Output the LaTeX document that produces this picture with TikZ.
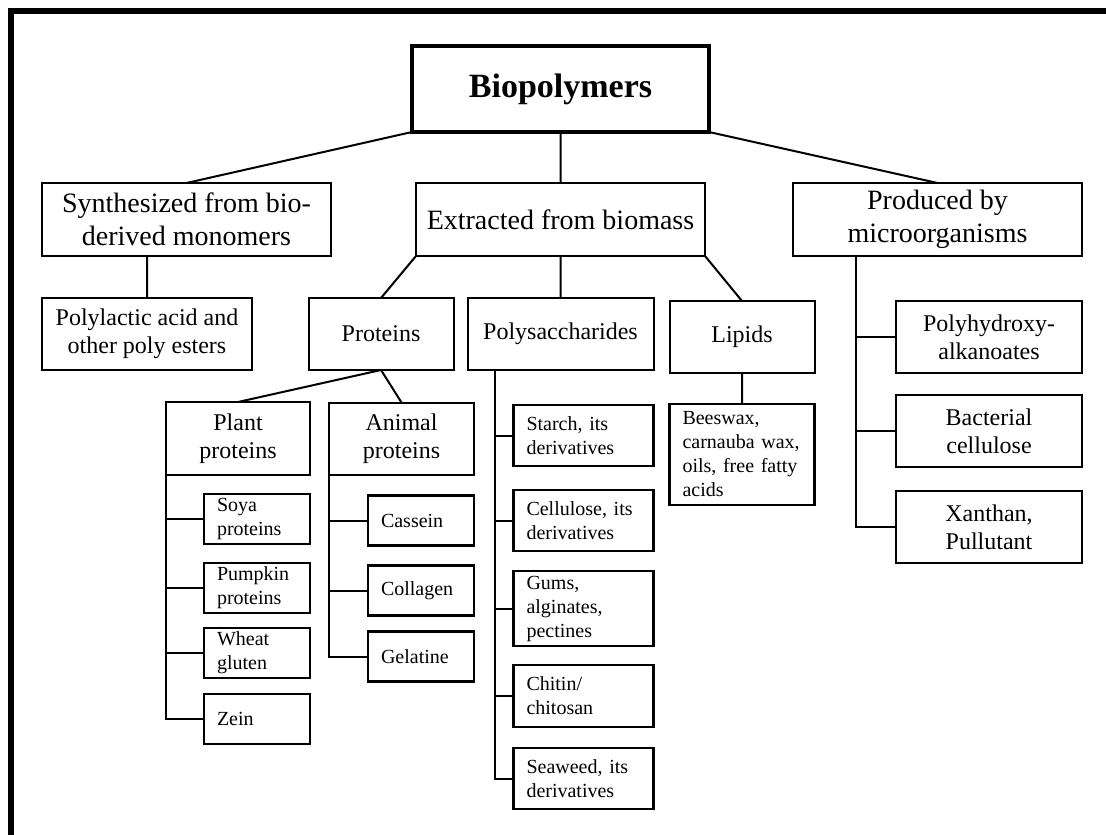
\documentclass[tikz,border=0pt]{standalone}
\usepackage{fontspec}
\setmainfont{Liberation Serif}
\usetikzlibrary{positioning}

\begin{document}
\begin{tikzpicture}[x=0.5pt,y=-0.5pt,line width=1pt,
    rootbox/.style={draw,line width=1.6pt,outer sep=0pt,minimum width=148.5pt,minimum height=43pt,font=\fontsize{17}{20}\selectfont\bfseries},
    bigbox/.style={draw,align=center,inner sep=0pt,outer sep=0pt,minimum width=144.5pt,minimum height=36.5pt,font=\fontsize{14}{16.5}\selectfont},
    midbox/.style={draw,align=center,inner sep=0pt,outer sep=0pt,minimum width=#1,minimum height=36pt,font=\fontsize{12}{14}\selectfont},
    leafbox/.style={draw,line width=1.1pt,align=left,inner xsep=6.5pt,inner ysep=0pt,outer sep=0pt,text width=#1,font=\fontsize{10}{12}\selectfont},
    plantleaf/.style={leafbox=40pt,minimum height=25pt},
    polyleaf/.style={leafbox=57pt,minimum height=30.5pt}]
    \useasboundingbox (0,0) rectangle (1106,834);
    \draw[line width=3pt] (11,850) -- (11,11) -- (1120,11);

    \node[rootbox] (bio) at (560.5,89) {Biopolymers};
    \node[bigbox] (ext) [below=25.5pt of bio] {Extracted from biomass};
    \node[bigbox] (syn) [left=42.5pt of ext] {Synthesized from bio-\\derived monomers};
    \node[bigbox] (prod) [right=44pt of ext] {Produced by\\microorganisms};

    \node[midbox=105pt] (pla) [below right=21pt and 0pt of syn.south west] {Polylactic acid and\\other poly esters};
    \node[midbox=93pt] (poly) [below=21pt of ext] {Polysaccharides};
    \node[midbox=72.5pt] (prot) [left=7pt of poly] {Proteins};
    \node[midbox=72.5pt] (lip) [right=8pt of poly,yshift=-1.5pt] {Lipids};
    \node[midbox=93pt] (pha) [below left=22.5pt and 0pt of prod.south east] {Polyhydroxy-\\alkanoates};
    \node[midbox=93pt] (bac) [below=11pt of pha] {Bacterial\\cellulose};
    \node[midbox=93pt] (xan) [below=12pt of bac] {Xanthan,\\Pullutant};

    \node[midbox=72pt,minimum height=36.5pt] (plant) [below left=16pt and 35.5pt of prot.south] {Plant\\proteins};
    \node[midbox=72.5pt] (anim) [right=9.5pt of plant] {Animal\\proteins};

    \node[plantleaf] (soya) [below right=9.5pt and 19pt of plant.south west] {Soya\\proteins};
    \node[plantleaf] (pump) [below=9.5pt of soya] {Pumpkin\\proteins};
    \node[plantleaf] (wheat) [below=7.5pt of pump] {Wheat\\gluten};
    \node[plantleaf] (zein) [below=8pt of wheat] {Zein};

    \node[plantleaf] (cass) [below right=10.5pt and 19.5pt of anim.south west] {Cassein};
    \node[plantleaf] (coll) [below=10pt of cass] {Collagen};
    \node[plantleaf] (gel) [below=8pt of coll] {Gelatine};

    \node[polyleaf] (starch) [below right=17.5pt and 23pt of poly.south west] {Starch, its\\derivatives};
    \node[polyleaf] (cell) [below=12pt of starch] {Cellulose, its\\derivatives};
    \node[polyleaf,minimum height=37.5pt] (gums) [below=10pt of cell] {Gums,\\alginates,\\pectines};
    \node[polyleaf,minimum height=31pt] (chit) [below=9.5pt of gums] {Chitin/\\chitosan};
    \node[polyleaf] (sea) [below=10.5pt of chit] {Seaweed, its\\derivatives};

    \node[leafbox=59.5pt,minimum height=50.5pt] (bees) [below=15.5pt of lip] {Beeswax,\\carnauba wax,\\oils, free fatty\\acids};

    \draw (bio.south west) -- (syn.north)
          (bio.south) -- (ext.north)
          (bio.south east) -- (prod.north)
          (pla.north) -- (pla.north |- syn.south)
          (ext.south west) -- (prot.north)
          (ext.south) -- (poly.north)
          (ext.south east) -- (lip.north)
          (prot.south) -- (plant.north)
          (prot.south) -- (anim.north)
          (lip.south) -- (bees.north);

    \coordinate (prodtrunk) at ([xshift=31.5pt]prod.south west);
    \coordinate (polytrunk) at ([xshift=13.5pt]poly.south west);
    \draw (prodtrunk) |- (xan.west);
    \foreach \n in {pha,bac} \draw (\n.west) -- (prodtrunk |- \n.west);
    \draw (polytrunk) |- (sea.west);
    \foreach \n in {starch,cell,gums,chit} \draw (\n.west) -- (polytrunk |- \n.west);
    \draw (plant.south west) |- (zein.west);
    \foreach \n in {soya,pump,wheat} \draw (\n.west) -- (plant.south west |- \n.west);
    \draw (anim.south west) |- (gel.west);
    \foreach \n in {cass,coll} \draw (\n.west) -- (anim.south west |- \n.west);
\end{tikzpicture}
\end{document}
